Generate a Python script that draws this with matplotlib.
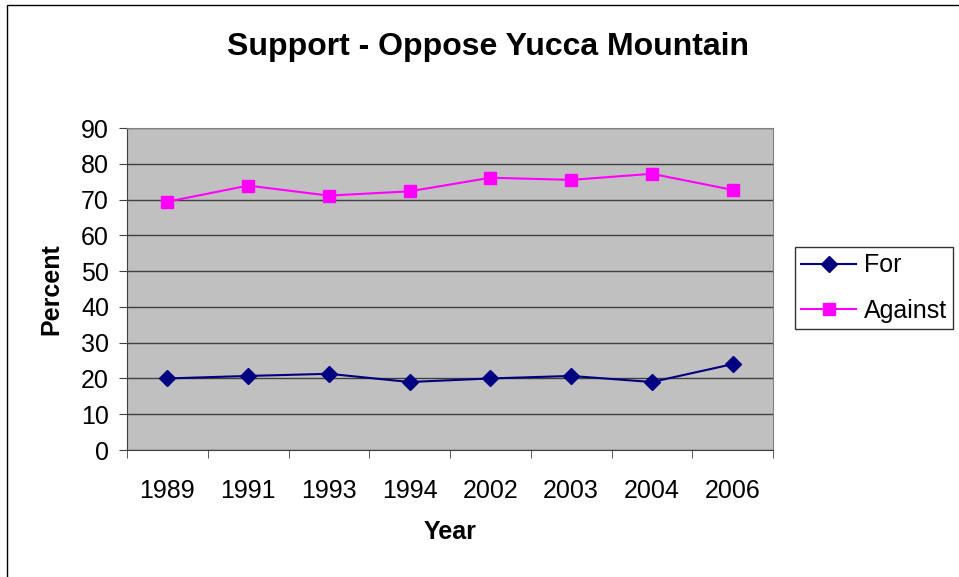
import numpy as np
import matplotlib
matplotlib.use("Agg")
import matplotlib.pyplot as plt
from matplotlib.patches import Rectangle

years = ["1989", "1991", "1993", "1994", "2002", "2003", "2004", "2006"]
for_vals = [20.0, 20.7, 21.3, 19.0, 20.0, 20.7, 19.0, 24.0]
against_vals = [69.4, 73.9, 71.1, 72.3, 76.1, 75.5, 77.2, 72.7]

plt.rcParams['font.family'] = ['Liberation Sans', 'DejaVu Sans']

fig = plt.figure(figsize=(9.59, 5.77), dpi=100)
ax = fig.add_axes([127/959, 1 - 450/577, 646/959, 322/577])
ax.set_facecolor("#C0C0C0")

x = np.arange(len(years))
ax.plot(x, for_vals, color="#000080", marker="D", markersize=8, lw=1.5, label="For", zorder=3)
ax.plot(x, against_vals, color="#FF00FF", marker="s", markersize=9, lw=1.5, label="Against", zorder=3)

ax.set_xlim(-0.5, len(years) - 0.5)
ax.set_ylim(0, 90)
ax.set_yticks(range(0, 91, 10))
ax.yaxis.grid(True, color="#404040", lw=1)
ax.set_axisbelow(True)
ax.tick_params(axis="y", labelsize=18, direction="out", length=6, pad=7, color="#404040")

ax.set_xticks(x)
ax.set_xticklabels(years, fontsize=18)
ax.set_xticks(np.arange(-0.5, len(years)), minor=True)
ax.tick_params(axis="x", which="major", length=0, pad=21)
ax.tick_params(axis="x", which="minor", length=6, direction="out", color="#404040")

for s in ["top", "right"]:
    ax.spines[s].set_color("#808080")
for s in ["left", "bottom"]:
    ax.spines[s].set_color("#404040")

ax.set_ylabel("Percent", fontsize=18, fontweight="bold", labelpad=13)
ax.set_xlabel("Year", fontsize=18, fontweight="bold", labelpad=12)
fig.text(488/959, 1 - 47/577, "Support - Oppose Yucca Mountain", fontsize=23,
         fontweight="bold", ha="center", va="center")

leg = fig.legend(loc="center left", bbox_to_anchor=(795/959, 1 - 288/577), fontsize=18,
                 frameon=True, fancybox=False, edgecolor="black", handlelength=2.2,
                 borderpad=0.25, labelspacing=0.85, handletextpad=0.3, borderaxespad=0)
leg.get_frame().set_linewidth(1)

fig.patches.append(Rectangle((7/959, -0.01), 1.1, 1 - 5/577 + 0.01, transform=fig.transFigure,
                             fill=False, edgecolor="black", lw=1))

fig.savefig("out.png", dpi=100)
